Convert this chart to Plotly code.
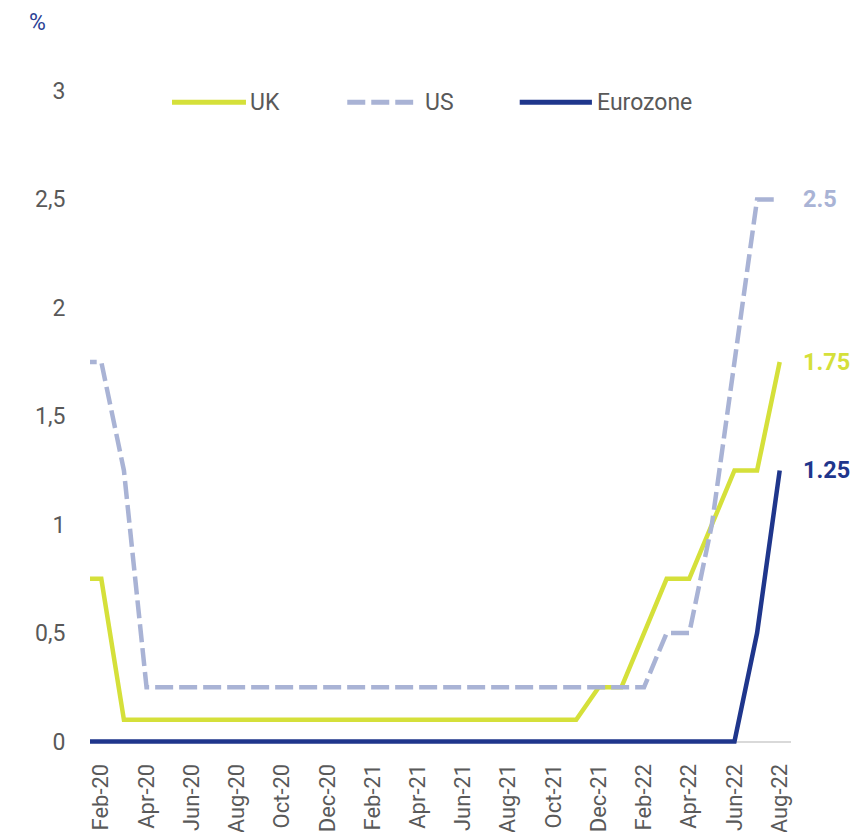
import pandas as pd
import plotly.graph_objects as go

# Monthly policy rates, Jan-20 .. Aug-22
months = list(pd.date_range("2020-01-01", "2022-08-01", freq="MS").strftime("%b-%y"))

uk = [0.75, 0.75] + [0.1] * 21 + [0.25, 0.25, 0.5, 0.75, 0.75, 1.0, 1.25, 1.25, 1.75]
us = [1.75, 1.75, 1.25] + [0.25] * 23 + [0.5, 0.5, 1.0, 1.75, 2.5, 2.5]
eurozone = [0.0] * 30 + [0.5, 1.25]

x_ticks = months[1::2]
y_tickvals = [0, 0.5, 1, 1.5, 2, 2.5, 3]
y_ticktext = ["0", "0,5", "1", "1,5", "2", "2,5", "3"]

UK_COLOR = "#D5E03A"
US_COLOR = "#A9B3D5"
EZ_COLOR = "#1F368C"
TEXT_COLOR = "#595959"
FONT = "Roboto"
FS = 23

US_DASH = "18px,6px"

series = [
    ("UK", uk, UK_COLOR, "solid"),
    ("US", us, US_COLOR, US_DASH),
    ("Eurozone", eurozone, EZ_COLOR, "solid"),
]

fig = go.Figure()
for name, vals, color, dash in series:
    fig.add_trace(go.Scatter(
        x=months, y=vals, name=name, mode="lines",
        line=dict(color=color, width=4.5, dash=dash),
        showlegend=False, hoverinfo="x+y+name",
    ))

# End-of-series value labels
for name, vals, color, dash in series:
    fig.add_annotation(
        x=months[-1], y=vals[-1], xref="x", yref="y",
        text=f"<b>{vals[-1]:g}</b>", showarrow=False,
        xanchor="left", yanchor="middle", xshift=21,
        font=dict(family=FONT, size=23.5, color=color),
    )

# Legend row drawn along the top of the plot
legend_items = [
    ("UK", UK_COLOR, "solid", 0.117, 0.2225, 0.225),
    ("US", US_COLOR, US_DASH, 0.367, 0.461, 0.475),
    ("Eurozone", EZ_COLOR, "solid", 0.613, 0.716, 0.72),
]
LEG_Y = 0.983
for label, color, dash, x0, x1, xt in legend_items:
    fig.add_shape(type="line", xref="paper", yref="paper",
                  x0=x0, x1=x1, y0=LEG_Y, y1=LEG_Y,
                  line=dict(color=color, width=5, dash=dash))
    fig.add_annotation(x=xt, y=LEG_Y, xref="paper", yref="paper",
                       text=label, showarrow=False, xanchor="left", yanchor="middle",
                       font=dict(family=FONT, size=FS, color=TEXT_COLOR))

# Unit label
fig.add_annotation(x=-0.075, y=1.105, xref="paper", yref="paper", text="%",
                   showarrow=False, xanchor="center", yanchor="middle",
                   font=dict(family=FONT, size=FS, color="#2B3F94"))

fig.update_layout(
    width=853, height=832,
    margin=dict(l=90, r=62, t=91, b=84),
    paper_bgcolor="white", plot_bgcolor="white",
    font=dict(family=FONT, size=FS, color=TEXT_COLOR),
    showlegend=False,
)
fig.update_xaxes(
    type="category", categoryorder="array", categoryarray=months,
    range=[0.5, len(months) - 0.5], automargin=False,
    tickmode="array", tickvals=x_ticks, ticktext=x_ticks,
    tickangle=-90, ticks="outside", ticklen=6, tickcolor="rgba(0,0,0,0)",
    tickfont=dict(family=FONT, size=22, color=TEXT_COLOR),
    showgrid=False, showline=False, zeroline=False,
)
fig.update_yaxes(
    range=[-0.03, 3], automargin=False,
    tickmode="array", tickvals=y_tickvals, ticktext=y_ticktext,
    ticks="outside", ticklen=19, tickcolor="rgba(0,0,0,0)",
    tickfont=dict(family=FONT, size=FS, color=TEXT_COLOR),
    showgrid=False, showline=False,
    zeroline=True, zerolinecolor="#D9D9D9", zerolinewidth=1.5,
)

fig.write_html("out.html")
